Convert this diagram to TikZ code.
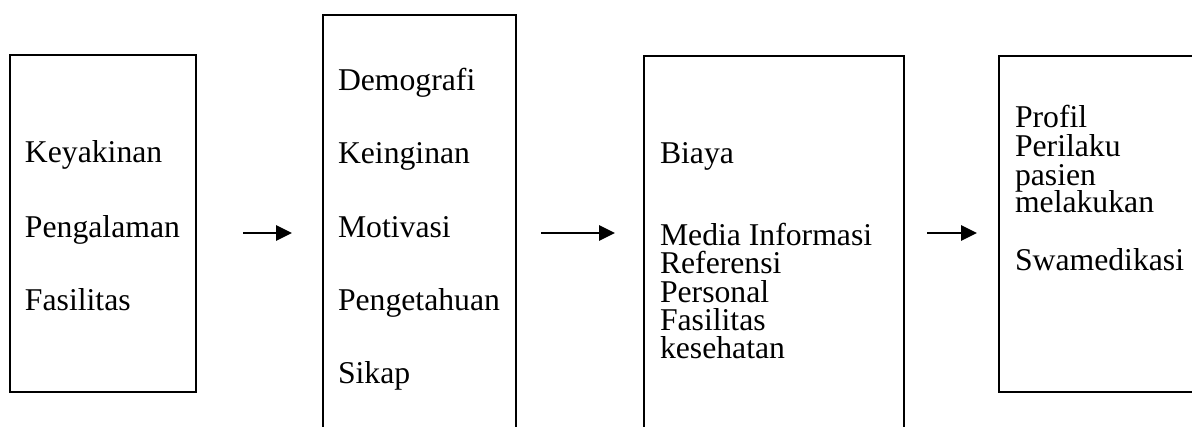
\documentclass[tikz,border=0pt]{standalone}
\usepackage{fontspec}
\setmainfont{Liberation Serif}
\usetikzlibrary{arrows.meta}
\tikzset{
  box/.style={draw=black, line width=1.1pt, inner sep=0pt, outer sep=0pt, anchor=north west},
  txt/.style={inner sep=0pt, outer sep=0pt, anchor=base west, font=\fontsize{15.85}{19}\selectfont},
  arr/.style={line width=1.4pt, -{Triangle[length=8pt,width=7.5pt]}},
}
\begin{document}
\begin{tikzpicture}[x=0.5pt,y=-0.5pt]
\useasboundingbox (0,0) rectangle (1192,427);
\clip (0,0) rectangle (1192,427);
% boxes
\node[box, minimum width=93pt, minimum height=168.5pt] (b1) at (10,55) {};
\node[box, minimum width=96.5pt, minimum height=230pt] (b2) at (323,15) {};
\node[box, minimum width=130pt, minimum height=210pt] (b3) at (644,56) {};
\node[box, minimum width=110pt, minimum height=168pt] (b4) at (999,56) {};
% box 1 text
\node[txt] (t11) at (25,163) {Keyakinan};
\node[txt] (t12) at (25,237) {Pengalaman};
\node[txt] (t13) at (25,310) {Fasilitas};
% box 2 text
\node[txt] (t21) at (338,91) {Demografi};
\node[txt] (t22) at (338,164) {Keinginan};
\node[txt] (t23) at (338,237) {Motivasi};
\node[txt] (t24) at (338,310) {Pengetahuan};
\node[txt] (t25) at (338,383) {Sikap};
% box 3 text
\node[txt] (t31) at (660,164) {Biaya};
\node[txt] (t32) at (660,245) {Media Informasi};
\node[txt] (t33) at (660,273) {Referensi};
\node[txt] (t34) at (660,302) {Personal};
\node[txt] (t35) at (660,330) {Fasilitas};
\node[txt] (t36) at (660,358) {kesehatan};
% box 4 text
\node[txt] (t41) at (1015,128) {Profil};
\node[txt] (t42) at (1015,157) {Perilaku};
\node[txt] (t43) at (1015,185) {pasien};
\node[txt] (t44) at (1015,213) {melakukan};
\node[txt] (t45) at (1015,270) {Swamedikasi};
% arrows
\coordinate (a1s) at (243,233);
\coordinate (a1e) at (292,233);
\coordinate (a2s) at (541,233);
\coordinate (a2e) at (615,233);
\coordinate (a3s) at (927,233);
\coordinate (a3e) at (977,233);
\draw[arr] (a1s) -- (a1e);
\draw[arr] (a2s) -- (a2e);
\draw[arr] (a3s) -- (a3e);
\end{tikzpicture}
\end{document}
